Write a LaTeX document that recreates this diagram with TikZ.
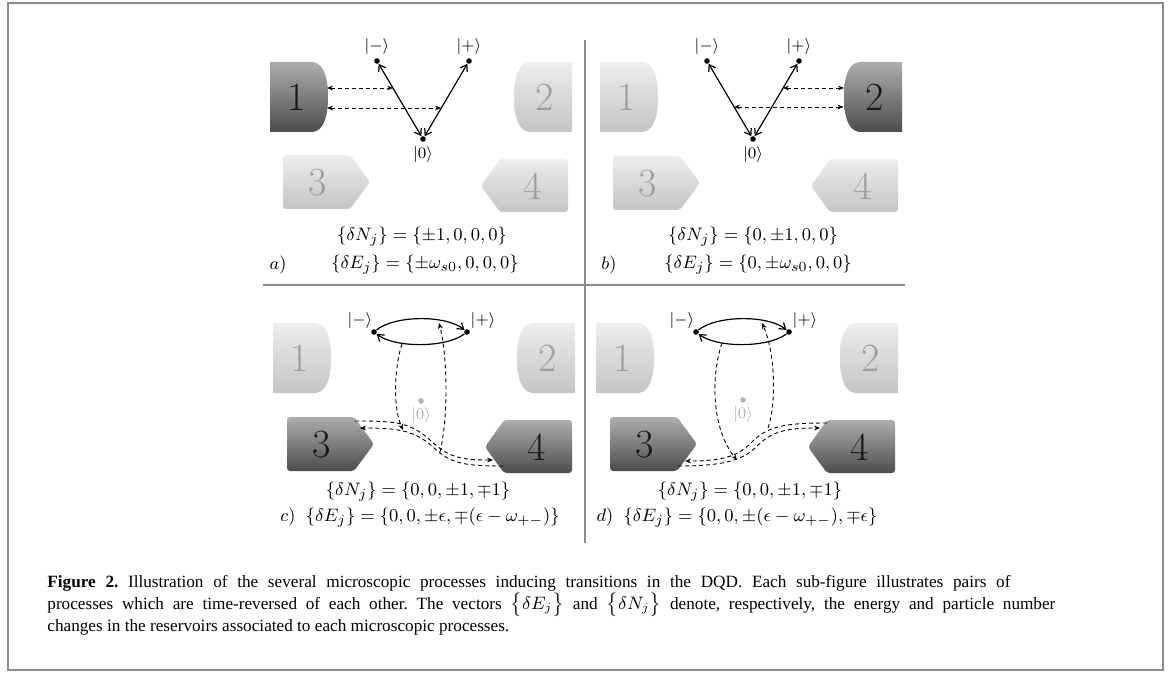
\documentclass[tikz,border=0pt]{standalone}
\usepackage{fontspec}
\newfontfamily\capfont{Liberation Serif}
\usetikzlibrary{arrows.meta}
\definecolor{darktop}{gray}{0.68}
\definecolor{darkbot}{gray}{0.30}
\definecolor{lighttop}{gray}{0.93}
\definecolor{lightbot}{gray}{0.77}
\definecolor{lightnumcol}{gray}{0.62}
\definecolor{darknumcol}{gray}{0.10}
\definecolor{framegray}{gray}{0.55}
\definecolor{zerogray}{gray}{0.70}
\tikzset{
  darkres/.style={top color=darktop, bottom color=darkbot},
  lightres/.style={top color=lighttop, bottom color=lightbot},
  darknum/.style={font=\fontsize{20}{20}\selectfont, text=darknumcol, inner sep=0pt},
  lightnum/.style={font=\fontsize{20}{20}\selectfont, text=lightnumcol, inner sep=0pt},
  ket/.style={font=\fontsize{8}{9}\selectfont, inner sep=0pt},
  state/.style={circle, fill=black, inner sep=0pt, minimum size=2.8pt},
  trans/.style={line width=0.6pt, {Straight Barb[length=3pt,width=4pt]}-{Straight Barb[length=3pt,width=4pt]}},
  arcarrow/.style={line width=0.6pt, -{Straight Barb[length=3pt,width=4pt]}},
  tunnel/.style={line width=0.45pt, dash pattern=on 2pt off 1.5pt, {Stealth[length=3pt,width=2.4pt]}-{Stealth[length=3pt,width=2.4pt]}},
  tunnelone/.style={line width=0.45pt, dash pattern=on 2pt off 1.5pt, -{Stealth[length=3pt,width=2.4pt]}},
  mathtxt/.style={font=\fontsize{9.4}{11}\selectfont, inner sep=0pt},
  captxt/.style={font=\capfont\fontsize{8.6}{11}\selectfont\frenchspacing, inner sep=0pt, anchor=base west},
  divider/.style={draw=framegray, line width=0.8pt}
}
% reservoir shapes: #1 node name, #2 dark/light, #3 shift
\newcommand\resOne[3]{%
  \begin{scope}[shift={#3}]
    \path[#2res] (0,0) -- (43,0) .. controls (55,2) and (58,18) .. (58,35)
      .. controls (58,52) and (55,68) .. (43,70) -- (0,70) -- cycle;
    \node[#2num] (#1) at (27,35) {1};
  \end{scope}}
\newcommand\resTwo[3]{%
  \begin{scope}[shift={#3}]
    \path[#2res] (58,0) -- (15,0) .. controls (3,2) and (0,18) .. (0,35)
      .. controls (0,52) and (3,68) .. (15,70) -- (58,70) -- cycle;
    \node[#2num] (#1) at (31,35) {2};
  \end{scope}}
\newcommand\resThree[3]{%
  \begin{scope}[shift={#3}]
    \path[#2res, rounded corners=1.5pt] (0,0) -- (67,0) -- (87,27) -- (67,54) -- (0,54) -- cycle;
    \node[#2num] (#1) at (35,28) {3};
  \end{scope}}
\newcommand\resFour[3]{%
  \begin{scope}[shift={#3}]
    \path[#2res, rounded corners=1.5pt] (87,0) -- (19,0) -- (0,27) -- (19,53) -- (87,53) -- cycle;
    \node[#2num] (#1) at (52,27) {4};
  \end{scope}}
\begin{document}
\begin{tikzpicture}[x=0.5pt, y=-0.5pt]
\useasboundingbox (0,0) rectangle (1170,673);
\draw[framegray, line width=1pt] (7.5,3.5) rectangle (1163,669.5);

% dividers
\coordinate (vtop) at (585,40);
\coordinate (vbot) at (585,543);
\coordinate (hl) at (263,285);
\coordinate (hr) at (905,285);
\draw[divider] (vtop) -- (vbot);
\draw[divider] (hl) -- (hr);

% ---------- panel a ----------
\resOne{a1}{dark}{(270,62)}
\resTwo{a2}{light}{(514,62)}
\resThree{a3}{light}{(283,155)}
\resFour{a4}{light}{(481,159)}
\node[state] (am) at (377,61) {};
\node[state] (ap) at (469,61) {};
\node[state] (az) at (423,139) {};
\node[ket] (aml) at (377,47) {$|-\rangle$};
\node[ket] (apl) at (469,47) {$|+\rangle$};
\node[ket] (azl) at (423,155) {$|0\rangle$};
\draw[trans] (az) -- (am);
\draw[trans] (az) -- (ap);
\coordinate (a1u) at (327,88);
\coordinate (alu) at (393,88);
\coordinate (a1d) at (327,108);
\coordinate (ald) at (441,108);
\draw[tunnel] (a1u) -- (alu);
\draw[tunnel] (a1d) -- (ald);
\node[mathtxt] (aN) at (422,237) {$\{\delta N_j\}=\{\pm1,0,0,0\}$};
\node[mathtxt] (aE) at (425,265) {$\{\delta E_j\}=\{\pm\omega_{s0},0,0,0\}$};
\node[mathtxt] (al) at (278,265) {$a)$};

% ---------- panel b ----------
\resOne{b1}{light}{(600,62)}
\resTwo{b2}{dark}{(844,62)}
\resThree{b3}{light}{(613,156)}
\resFour{b4}{light}{(811,159)}
\node[state] (bm) at (707,61) {};
\node[state] (bp) at (799,61) {};
\node[state] (bz) at (753,139) {};
\node[ket] (bml) at (707,47) {$|-\rangle$};
\node[ket] (bpl) at (799,47) {$|+\rangle$};
\node[ket] (bzl) at (753,155) {$|0\rangle$};
\draw[trans] (bz) -- (bm);
\draw[trans] (bz) -- (bp);
\coordinate (bru) at (783,88);
\coordinate (b2u) at (844,88);
\coordinate (bld) at (734,107);
\coordinate (b2d) at (843.5,107);
\draw[tunnel] (bru) -- (b2u);
\draw[tunnel] (bld) -- (b2d);
\node[mathtxt] (bN) at (753,237) {$\{\delta N_j\}=\{0,\pm1,0,0\}$};
\node[mathtxt] (bE) at (758,265) {$\{\delta E_j\}=\{0,\pm\omega_{s0},0,0\}$};
\node[mathtxt] (bl) at (609,265) {$b)$};

% ---------- panel c ----------
\resOne{c1}{light}{(273,323)}
\resTwo{c2}{light}{(517,323)}
\resThree{c3}{dark}{(287,417)}
\resFour{c4}{dark}{(485,420)}
\node[state] (cm) at (374,332) {};
\node[state] (cp) at (467,332) {};
\node[state, fill=zerogray] (cz) at (421,401) {};
\node[ket] (cml) at (360,320) {$|-\rangle$};
\node[ket] (cpl) at (483,320) {$|+\rangle$};
\node[ket, text=zerogray] (czl) at (421,415) {$|0\rangle$};
\draw[arcarrow] (cm) .. controls (395,315) and (446,315) .. (cp);
\draw[arcarrow] (cp) .. controls (446,348) and (395,348) .. (cm);
\coordinate (cls) at (402,344);
\coordinate (cle) at (403,430);
\coordinate (crs) at (440,452);
\coordinate (cre) at (439,323);
\draw[tunnelone] (cls) .. controls (394,368) and (393,408) .. (cle);
\draw[tunnelone] (crs) .. controls (448,420) and (448,358) .. (cre);
\coordinate (c3u) at (355,421);
\coordinate (c4u) at (493,460);
\coordinate (c4l) at (503,466);
\coordinate (c3l) at (360,428);
\draw[tunnelone] (c3u) .. controls (395,421) and (410,422) .. (430,440)
   .. controls (448,457) and (460,460) .. (c4u);
\draw[tunnelone] (c4l) .. controls (462,466) and (450,463) .. (433,447)
   .. controls (415,431) and (400,428) .. (c3l);
\node[mathtxt] (cN) at (418,492) {$\{\delta N_j\}=\{0,0,\pm1,\mp1\}$};
\node[mathtxt] (cE) at (420,518) {$c)\;\;\{\delta E_j\}=\{0,0,\pm\epsilon,\mp(\epsilon-\omega_{+-})\}$};

% ---------- panel d ----------
\resOne{d1}{light}{(596,323)}
\resTwo{d2}{light}{(840,323)}
\resThree{d3}{dark}{(610,417)}
\resFour{d4}{dark}{(808,420)}
\node[state] (dm) at (696,332) {};
\node[state] (dp) at (789,332) {};
\node[state, fill=zerogray] (dz) at (743,400) {};
\node[ket] (dml) at (682,320) {$|-\rangle$};
\node[ket] (dpl) at (805,320) {$|+\rangle$};
\node[ket, text=zerogray] (dzl) at (743,414) {$|0\rangle$};
\draw[arcarrow] (dm) .. controls (717,315) and (768,315) .. (dp);
\draw[arcarrow] (dp) .. controls (768,348) and (717,348) .. (dm);
\coordinate (dls) at (722,343);
\coordinate (dle) at (737,460);
\coordinate (drs) at (768,428);
\coordinate (dre) at (762,323);
\draw[tunnelone] (dls) .. controls (711,375) and (711,428) .. (dle);
\draw[tunnelone] (drs) .. controls (776,405) and (776,355) .. (dre);
\coordinate (d4u) at (827,423);
\coordinate (d3u) at (685,461);
\coordinate (d3l) at (678,466);
\coordinate (d4l) at (820,428);
\draw[tunnelone] (d4u) .. controls (785,423) and (768,426) .. (752,442)
   .. controls (737,457) and (722,461) .. (d3u);
\draw[tunnelone] (d3l) .. controls (718,466) and (742,462) .. (757,446)
   .. controls (773,430) and (790,428) .. (d4l);
\node[mathtxt] (dN) at (750,492) {$\{\delta N_j\}=\{0,0,\pm1,\mp1\}$};
\node[mathtxt] (dE) at (737,518) {$d)\;\;\{\delta E_j\}=\{0,0,\pm(\epsilon-\omega_{+-}),\mp\epsilon\}$};

% ---------- caption ----------
\node[captxt] (cap1) at (47,587) {\hbox to 481.5pt{\textbf{Figure 2.} Illustration of the several microscopic processes inducing transitions in the DQD. Each sub-figure illustrates pairs of}};
\node[captxt] (cap2) at (47,609) {\hbox to 504pt{processes which are time-reversed of each other. The vectors $\big\{\delta E_j\big\}$ and $\big\{\delta N_j\big\}$ denote, respectively, the energy and particle number}};
\node[captxt] (cap3) at (47,631) {changes in the reservoirs associated to each microscopic processes.};
\end{tikzpicture}
\end{document}
